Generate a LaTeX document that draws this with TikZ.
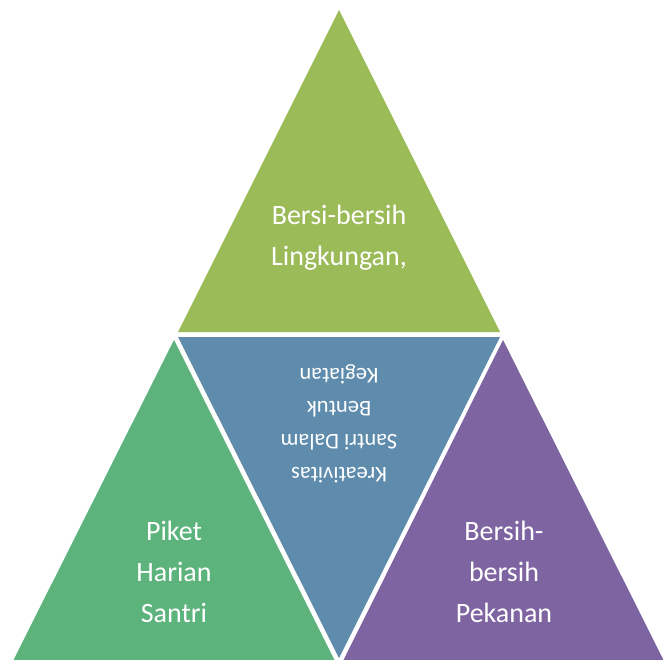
\documentclass[tikz,border=0pt]{standalone}
\usepackage{fontspec}
\setmainfont[Ligatures={NoCommon}]{Carlito}
\definecolor{cTop}{HTML}{9BBB59}
\definecolor{cLeft}{HTML}{5CB37C}
\definecolor{cMid}{HTML}{5F8CAD}
\definecolor{cRight}{HTML}{7F64A2}
\begin{document}
\begin{tikzpicture}[x=1pt,y=-1pt,
  lbl/.style={text=white,align=center,inner sep=0pt,font=\fontsize{28}{41}\selectfont},
  lblsmall/.style={text=white,align=center,inner sep=0pt,font=\fontsize{22.5}{33}\selectfont}]
\useasboundingbox (0,0) rectangle (663,660);
\fill[white] (0,0) rectangle (663,660);
% triangles
\fill[cTop] (339,10) -- (500,332) -- (178,332) -- cycle;
\fill[cLeft] (174,340) -- (335,661) -- (13,661) -- cycle;
\fill[cRight] (503,340) -- (664,661) -- (343,661) -- cycle;
\fill[cMid] (178,337) -- (500,337) -- (339,658) -- cycle;
% labels
\node[lbl] (top) at (339,238) {Bersi-bersih\\Lingkungan,};
\node[lbl] (left) at (174,572) {Piket\\Harian\\Santri};
\node[lbl] (right) at (504,572) {Bersih-\\bersih\\Pekanan};
\node[lblsmall,rotate=180] (mid) at (339,424) {Kreativitas\\Santri Dalam\\Bentuk\\Kegiatan};
\end{tikzpicture}
\end{document}
